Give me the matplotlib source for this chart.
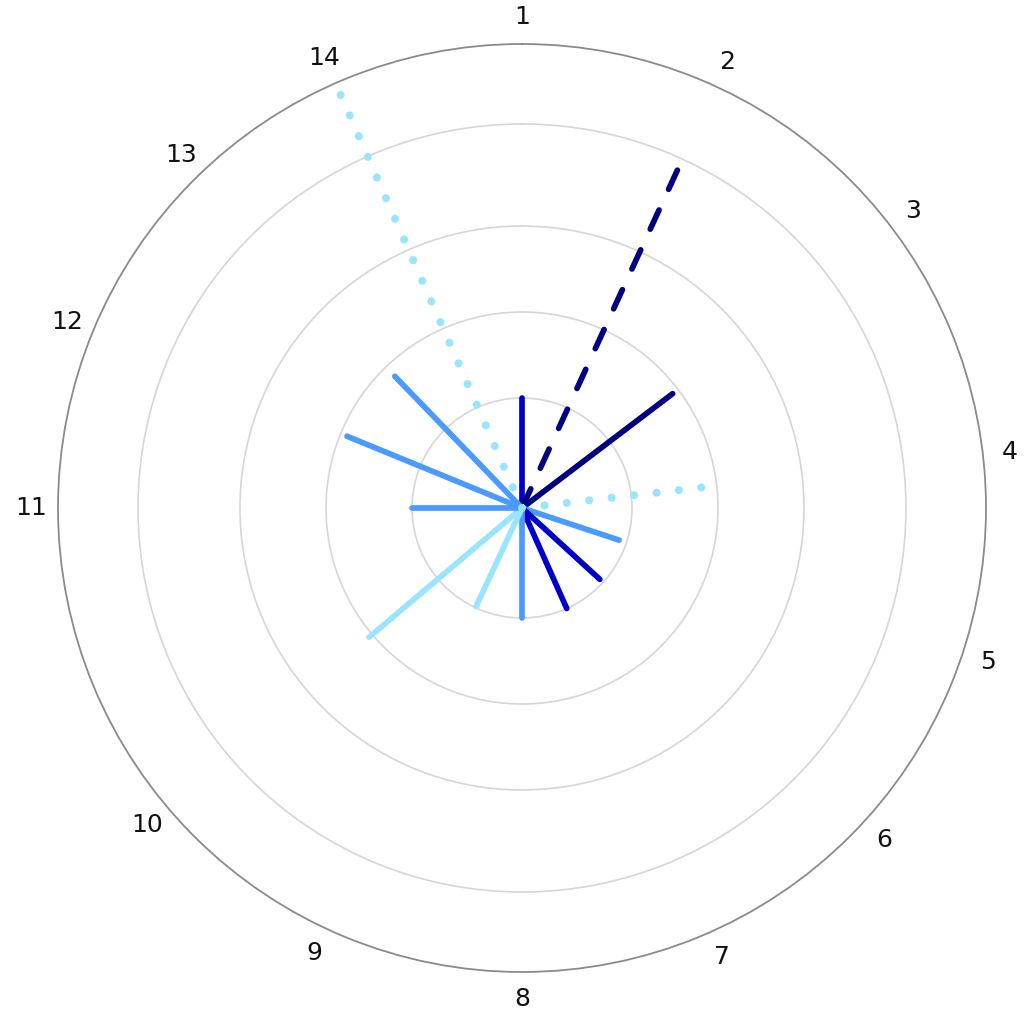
import numpy as np
import matplotlib
matplotlib.use("Agg")
import matplotlib.pyplot as plt

# ---- data ----
categories = [str(i) for i in range(1, 15)]
angles_deg = [0, 24.7, 52.8, 83.5, 108.3, 132.5, 156.0, 180, 205.0, 229.8, 270.0, 292.3, 316.0, 336.3]
values = [1.0, 3.9, 1.92, 1.9, 0.93, 0.96, 1.0, 1.0, 0.99, 2.05, 1.0, 1.92, 1.85, 4.88]
colors = ["#0000cc", "#000080", "#000080", "#99e5ff", "#4a9aff", "#0000cc", "#0000cc",
          "#4a9aff", "#99e5ff", "#99e5ff", "#4a9aff", "#4a9aff", "#4a9aff", "#99e5ff"]
styles = ["solid", "dashed", "solid", "dotted", "solid", "solid", "solid",
          "solid", "solid", "solid", "solid", "solid", "solid", "dotted"]
ring_levels = [0, 1, 2, 3, 4, 5]
ring_pos = [0, 110, 196, 282, 384, 464]

W, H = 1024, 1022
fig = plt.figure(figsize=(W / 100, H / 100), dpi=100)
cx, cy, R = 522, 508, 464
ax = fig.add_axes([(cx - R) / W, (H - cy - R) / H, 2 * R / W, 2 * R / H], projection="polar")
ax.set_theta_zero_location("N")
ax.set_theta_direction(-1)

def fwd(v):
    return np.interp(v, ring_levels, ring_pos)

def inv(p):
    return np.interp(p, ring_pos, ring_levels)

ax.set_rscale("function", functions=(fwd, inv))
ax.set_rlim(0, 5)

for ang, val, col, st in zip(angles_deg, values, colors, styles):
    th = np.deg2rad(ang)
    if st == "dotted":
        line, = ax.plot([th, th], [0, val], color=col, lw=5.8, dash_capstyle="round", zorder=3)
        line.set_dashes((0.01, 2.79))
    elif st == "dashed":
        line, = ax.plot([th, th], [0, val], color=col, lw=4.1, dash_capstyle="round", zorder=3)
        line.set_dashes((3.7, 4.0))
    else:
        ax.plot([th, th], [0, val], color=col, lw=4.1, solid_capstyle="round", zorder=3)

ax.set_rticks([1, 2, 3, 4])
ax.set_yticklabels([])
ax.yaxis.grid(True, color="#d6d6d6", lw=1.2)
ax.xaxis.grid(False)
ax.spines["polar"].set_color("#8a8a8a")
ax.spines["polar"].set_linewidth(1.3)
ax.set_xticks(np.deg2rad(angles_deg))
ax.set_xticklabels(categories, fontsize=18, color="#111111")
ax.tick_params(axis="x", pad=9)
ax.set_facecolor("white")

fig.savefig("out.png", dpi=100, facecolor="white")
